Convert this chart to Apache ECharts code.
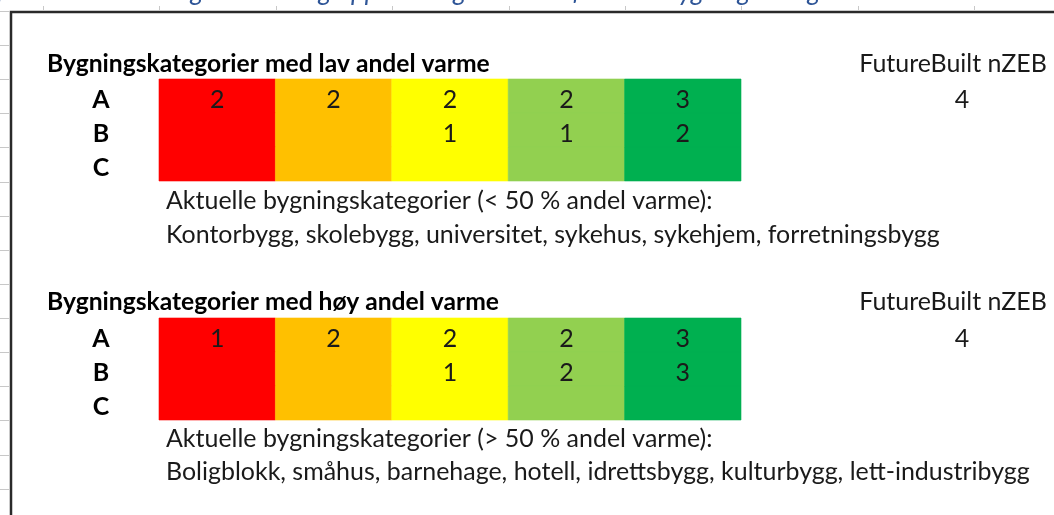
<!DOCTYPE html>
<html>
<head>
<meta charset="utf-8">
<script src="https://cdn.jsdelivr.net/npm/echarts@6.0.0/dist/echarts.min.js"></script>
<style>
  html, body { margin: 0; padding: 0; background: #fff; }
  #main { width: 1054px; height: 515px; }
</style>
</head>
<body>
<div id="main"></div>
<script>
// kolonner = energinivå (rød -> grønn), rader = A/B/C
const levels = ["rød", "oransje", "gul", "lysegrønn", "grønn"];
const levelColors = ["#ff0000", "#ffc000", "#ffff00", "#92d050", "#00b050"];
const rows = ["A", "B", "C"];

// lav andel varme
const lavA = [2, 2, 2, 2, 3];
const lavB = [null, null, 1, 1, 2];
const lavC = [null, null, null, null, null];
const lavNzeb = 4;

// høy andel varme
const hoyA = [1, 2, 2, 2, 3];
const hoyB = [null, null, 1, 2, 3];
const hoyC = [null, null, null, null, null];
const hoyNzeb = 4;

const lavTitle = "Bygningskategorier med lav andel varme";
const hoyTitle = "Bygningskategorier med høy andel varme";
const nzebTitle = "FutureBuilt nZEB";
const lavInfo = "Aktuelle bygningskategorier (< 50 % andel varme):";
const lavList = "Kontorbygg, skolebygg, universitet, sykehus, sykehjem, forretningsbygg";
const hoyInfo = "Aktuelle bygningskategorier (> 50 % andel varme):";
const hoyList = "Boligblokk, småhus, barnehage, hotell, idrettsbygg, kulturbygg, lett-industribygg";
const caption = "Figur 2: Krav til energikarakter og oppvarmingskarakter for ulike bygningskategorier";

const FONT = "Lato";

// finn fontstørrelse som gir samme bredde som i originalen
function fitSize(text, width, weight) {
  const ctx = document.createElement("canvas").getContext("2d");
  ctx.font = weight + " 100px " + FONT;
  return 100 * width / ctx.measureText(text).width;
}
const bodySize = fitSize(lavList, 774, "normal");
const titleSize = fitSize(lavTitle, 443, "bold");

function cells(a, b, c) {
  const out = [];
  [a, b, c].forEach((vals, r) => vals.forEach((v, col) => out.push([col, r, v])));
  return out;
}

function renderCell(params, api) {
  const col = api.value(0);
  const row = api.value(1);
  const val = api.value(2);
  const c = api.coord([col, row]);
  const s = api.size([1, 1]);
  const children = [{
    type: "rect",
    shape: { x: c[0] - s[0] / 2, y: c[1] - s[1] / 2, width: s[0], height: s[1] },
    style: { fill: levelColors[col], stroke: levelColors[col], lineWidth: 0.6 }
  }];
  if (val != null && !isNaN(val)) {
    children.push({
      type: "text",
      style: {
        text: String(val), x: c[0], y: c[1] + 4,
        align: "center", verticalAlign: "middle",
        font: "normal " + bodySize + "px " + FONT, fill: "#1a1a1a"
      }
    });
  }
  return { type: "group", children: children };
}

function text(str, x, y, opts) {
  return {
    type: "text", x: x, y: y, z: 10,
    style: Object.assign({
      text: str, fill: "#1a1a1a", font: "normal " + bodySize + "px " + FONT,
      verticalAlign: "middle"
    }, opts || {})
  };
}

// rester av regnearkets rutenett i kanten
const gridMarks = [];
for (let k = 0; k < 15; k++) {
  const y = Math.round(11 + 34.12 * k) + 0.5;
  gridMarks.push({ type: "line", shape: { x1: 0, y1: y, x2: 9, y2: y }, style: { stroke: "#c8c8c8", lineWidth: 1 } });
}
for (let k = 0; k < 9; k++) {
  const x = Math.round(43 + 116.4 * k) + 0.5;
  gridMarks.push({ type: "line", shape: { x1: x, y1: 6, x2: x, y2: 10 }, style: { stroke: "#c8c8c8", lineWidth: 1 } });
}

const chart = echarts.init(document.getElementById("main"));

const yAxisBase = {
  type: "category",
  data: rows,
  inverse: true,
  axisLine: { show: false },
  axisTick: { show: false },
  splitLine: { show: false },
  axisLabel: {
    margin: 58, align: "center", verticalAlign: "top", lineHeight: 8,
    fontFamily: FONT, fontWeight: "bold", fontSize: bodySize, color: "#000"
  }
};
const xAxisBase = { type: "category", data: levels, show: false };

chart.setOption({
  animation: false,
  grid: [
    { left: 159, top: 79, width: 582, height: 102 },
    { left: 159, top: 318, width: 582, height: 102 }
  ],
  xAxis: [
    Object.assign({ gridIndex: 0 }, xAxisBase),
    Object.assign({ gridIndex: 1 }, xAxisBase)
  ],
  yAxis: [
    Object.assign({ gridIndex: 0 }, yAxisBase),
    Object.assign({ gridIndex: 1 }, yAxisBase)
  ],
  series: [
    {
      type: "custom", xAxisIndex: 0, yAxisIndex: 0,
      renderItem: renderCell, encode: { x: 0, y: 1 },
      data: cells(lavA, lavB, lavC)
    },
    {
      type: "custom", xAxisIndex: 1, yAxisIndex: 1,
      renderItem: renderCell, encode: { x: 0, y: 1 },
      data: cells(hoyA, hoyB, hoyC)
    }
  ],
  graphic: gridMarks.concat([
    // ramme
    {
      type: "polyline", z: 20,
      shape: { points: [[11, 530], [11, 12], [1070, 12]] },
      style: { fill: null, stroke: "#2a2a2a", lineWidth: 2.5 }
    },
    text(caption, -30, 5, { fill: "#2e5597", font: "italic " + (bodySize * 1.05) + "px " + FONT, verticalAlign: "bottom" }),

    text(lavTitle, 47, 64, { fill: "#000", font: "bold " + titleSize + "px " + FONT }),
    text(nzebTitle, 953, 64, { align: "center" }),
    text(String(lavNzeb), 962, 100, { align: "center" }),
    text(lavInfo, 166, 201),
    text(lavList, 166, 235),

    text(hoyTitle, 47, 302, { fill: "#000", font: "bold " + titleSize + "px " + FONT }),
    text(nzebTitle, 953, 302, { align: "center" }),
    text(String(hoyNzeb), 962, 339, { align: "center" }),
    text(hoyInfo, 166, 439),
    text(hoyList, 166, 472)
  ])
});
</script>
</body>
</html>
